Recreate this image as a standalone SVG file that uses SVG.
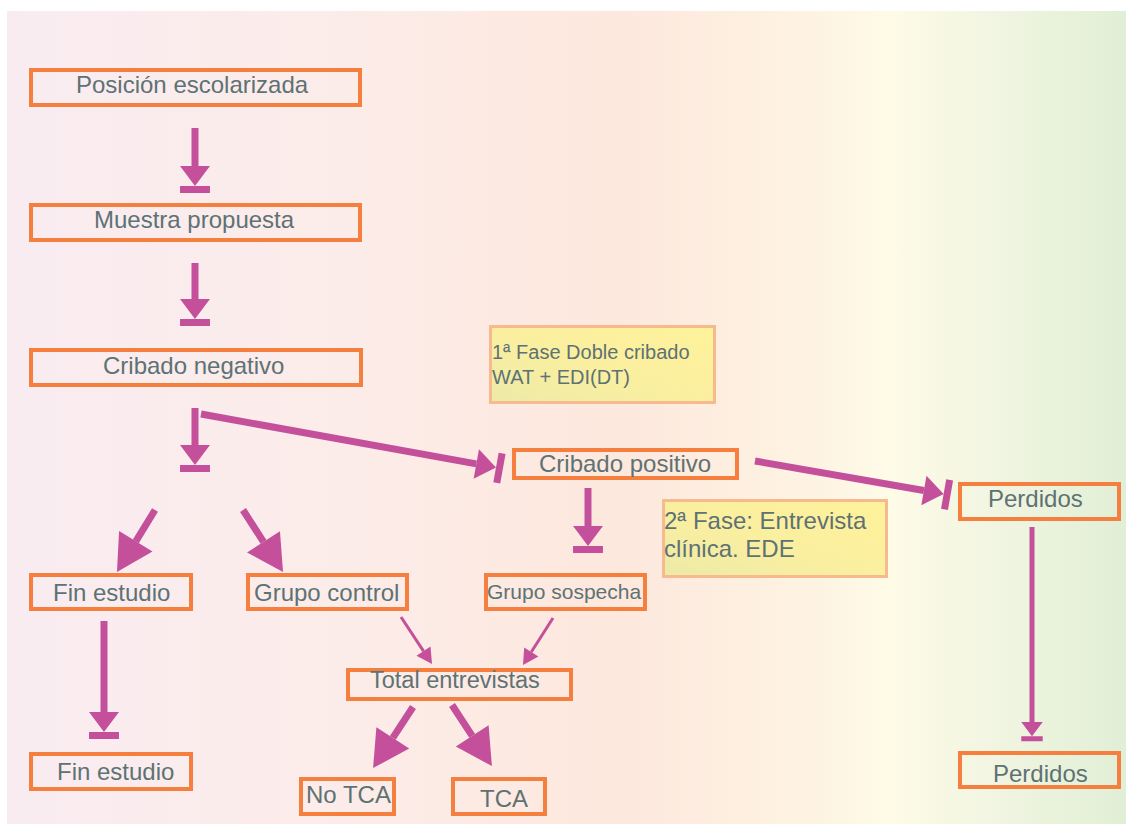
<svg xmlns="http://www.w3.org/2000/svg" width="1126" height="824" viewBox="0 0 1126 824">
  <defs>
    <linearGradient id="bg" x1="7" y1="0" x2="1126" y2="0" gradientUnits="userSpaceOnUse">
      <stop offset="0" stop-color="#f9ecf1"/>
      <stop offset="0.3" stop-color="#fcece9"/>
      <stop offset="0.55" stop-color="#fde8dd"/>
      <stop offset="0.73" stop-color="#fef4e3"/>
      <stop offset="0.79" stop-color="#fefbe7"/>
      <stop offset="0.88" stop-color="#f1f5e1"/>
      <stop offset="1" stop-color="#e1efd6"/>
    </linearGradient>
    <linearGradient id="note" x1="0" y1="1" x2="1" y2="0">
      <stop offset="0" stop-color="#eceaa8"/>
      <stop offset="0.45" stop-color="#faefa0"/>
      <stop offset="1" stop-color="#fff29b"/>
    </linearGradient>
    <marker id="tee" markerUnits="strokeWidth" markerWidth="6" markerHeight="6" refX="0" refY="0" orient="auto" overflow="visible">
      <path d="M0,-2.14 L2.86,0 L0,2.14 Z M2.86,-2.14 H3.86 V2.14 H2.86 Z" fill="#c4509c"/>
    </marker>
    <marker id="big" markerUnits="strokeWidth" markerWidth="6" markerHeight="6" refX="0" refY="0" orient="auto" overflow="visible">
      <path d="M0,-2.8 L5.15,0 L0,2.8 Z" fill="#c4509c"/>
    </marker>
    <style>
      .box { fill: none; stroke: #f47f3e; stroke-width: 4; }
      .note { fill: url(#note); stroke: #f7b98e; stroke-width: 3; }
      .t { font-family: "Liberation Sans", Arial, sans-serif; font-size: 24px; fill: #5e7274; }
      .c { fill: none; stroke: #c4509c; stroke-width: 7; }
      .tee { marker-end: url(#tee); }
      .big { marker-end: url(#big); }
    </style>
  </defs>

  <rect x="0" y="0" width="1126" height="824" fill="#ffffff"/>
  <rect x="7" y="11" width="1119" height="813" fill="url(#bg)"/>

  <g id="connectors">
    <line class="c tee" x1="195" y1="128" x2="195" y2="166"/>
    <line class="c tee" x1="195" y1="263" x2="195" y2="299"/>
    <line class="c tee" x1="195" y1="408" x2="195" y2="445"/>
    <line class="c tee" x1="201" y1="414" x2="476.3" y2="463.9"/>
    <line class="c tee" x1="588" y1="488" x2="588" y2="526"/>
    <line class="c tee" x1="755" y1="461" x2="923.9" y2="490.5"/>
    <line class="c tee" x1="104" y1="621" x2="104" y2="712"/>
    <line class="c tee" style="stroke-width:5" x1="1032" y1="527" x2="1032" y2="722"/>
    <line class="c big" x1="155" y1="510" x2="135.8" y2="541.3"/>
    <line class="c big" x1="243" y1="510" x2="263.5" y2="541.8"/>
    <line class="c big" style="stroke-width:3" x1="401" y1="617" x2="423.5" y2="651.1"/>
    <line class="c big" style="stroke-width:3" x1="553" y1="618" x2="531.3" y2="652"/>
    <line class="c big" x1="413" y1="707" x2="392.8" y2="737.9"/>
    <line class="c big" x1="452" y1="705" x2="472.2" y2="735.9"/>
  </g>

  <g id="n-posicion">
    <rect class="box" x="31" y="70" width="329" height="35"/>
    <text class="t" x="76" y="93">Posición escolarizada</text>
  </g>
  <g id="n-muestra">
    <rect class="box" x="31" y="205" width="329" height="35"/>
    <text class="t" x="94" y="228">Muestra propuesta</text>
  </g>
  <g id="n-cribado-negativo">
    <rect class="box" x="31" y="350" width="330" height="35"/>
    <text class="t" x="103" y="374">Cribado negativo</text>
  </g>
  <g id="n-fase1">
    <rect class="note" x="490.5" y="326.5" width="224" height="76"/>
    <text class="t" style="font-size:20px" x="492" y="359">1ª Fase Doble cribado</text>
    <text class="t" style="font-size:20px" x="492" y="384">WAT + EDI(DT)</text>
  </g>
  <g id="n-cribado-positivo">
    <rect class="box" x="514" y="450" width="223" height="28"/>
    <text class="t" x="539" y="472">Cribado positivo</text>
  </g>
  <g id="n-fase2">
    <rect class="note" x="663.5" y="500.5" width="223" height="76"/>
    <text class="t" x="664" y="529">2ª Fase: Entrevista</text>
    <text class="t" x="664" y="557">clínica. EDE</text>
  </g>
  <g id="n-perdidos-1">
    <rect class="box" x="960" y="484" width="159" height="35"/>
    <text class="t" x="988" y="507">Perdidos</text>
  </g>
  <g id="n-perdidos-2">
    <rect class="box" x="960" y="753" width="159" height="34"/>
    <text class="t" x="993" y="782">Perdidos</text>
  </g>
  <g id="n-fin-estudio-1">
    <rect class="box" x="31" y="575" width="160" height="34"/>
    <text class="t" x="53" y="601">Fin estudio</text>
  </g>
  <g id="n-grupo-control">
    <rect class="box" x="248" y="575" width="159" height="34"/>
    <text class="t" x="254" y="601">Grupo control</text>
  </g>
  <g id="n-grupo-sospecha">
    <rect class="box" x="486" y="575" width="159" height="34"/>
    <text class="t" style="font-size:21px" x="487" y="599">Grupo sospecha</text>
  </g>
  <g id="n-total">
    <rect class="box" x="348" y="670" width="223" height="29"/>
    <text class="t" style="font-size:23.5px" x="370" y="688">Total entrevistas</text>
  </g>
  <g id="n-fin-estudio-2">
    <rect class="box" x="31" y="754" width="160" height="35"/>
    <text class="t" x="57" y="780">Fin estudio</text>
  </g>
  <g id="n-no-tca">
    <rect class="box" x="301" y="779" width="93" height="35"/>
    <text class="t" x="306" y="803">No TCA</text>
  </g>
  <g id="n-tca">
    <rect class="box" x="453" y="779" width="92" height="35"/>
    <text class="t" x="480" y="807">TCA</text>
  </g>
</svg>
